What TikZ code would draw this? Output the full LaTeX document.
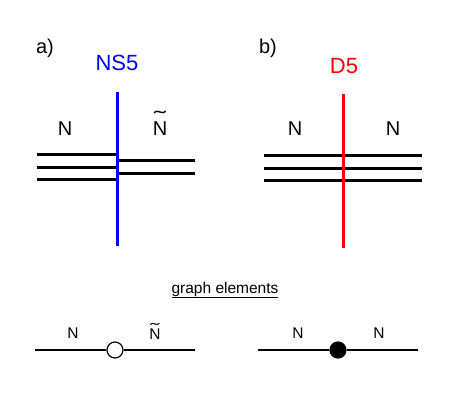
\documentclass[tikz,border=0pt]{standalone}
\usepackage{fontspec}
\usepackage{graphicx}
\setmainfont{Liberation Sans}
\newcommand\mywidetilde{\raisebox{-0.55em}[0.15em][0pt]{\scalebox{1.8}[1]{\char"02DC}}}
\begin{document}
\begin{tikzpicture}[x=1pt,y=-1pt,
  brane/.style={line width=3pt},
  lbl/.style={font=\fontsize{20}{24}\selectfont, inner sep=0pt},
  slbl/.style={font=\fontsize{15.5}{18}\selectfont, inner sep=0pt},
  gline/.style={line width=1.4pt},
  opendot/.style={circle, draw, line width=1.2pt, fill=white, minimum size=16pt, inner sep=0pt},
  fulldot/.style={circle, draw, line width=1.2pt, fill=black, minimum size=16pt, inner sep=0pt}]
\useasboundingbox (0,0) rectangle (472,410);
% panel a
\node[lbl] (la) at (45,48) {a)};
\node[lbl, text=blue, font=\fontsize{22}{26}\selectfont] (ns5) at (117,63) {NS5};
\node[lbl] (na) at (65,129) {N};
\node[lbl] (nta) at (160,129) {N};
\node[lbl, anchor=base] (ntaT) at (160,114) {\mywidetilde};
\coordinate (bt) at (117,92); \coordinate (bb) at (117,246);
\foreach \y [count=\i] in {154,167,179} {
  \coordinate (al\i) at (37,\y); \coordinate (am\i) at (117,\y);
  \draw[brane] (al\i) -- (am\i);
}
\foreach \y [count=\i] in {160,173} {
  \coordinate (ar\i) at (195,\y); \coordinate (an\i) at (117,\y);
  \draw[brane] (an\i) -- (ar\i);
}
\draw[line width=3pt, blue] (bt) -- (bb);
% panel b
\node[lbl] (lb) at (268,48) {b)};
\node[lbl, text=red, font=\fontsize{22}{26}\selectfont] (d5) at (344,66) {D5};
\node[lbl] (nb1) at (295,129) {N};
\node[lbl] (nb2) at (393,129) {N};
\foreach \y [count=\i] in {155,168,180} {
  \coordinate (bl\i) at (264,\y); \coordinate (br\i) at (422,\y);
  \draw[brane] (bl\i) -- (br\i);
}
\coordinate (rt) at (343,94); \coordinate (rb) at (343,248);
\draw[line width=3pt, red] (rt) -- (rb);
% graph elements
\node[slbl] (ge) at (225,290) {\underline{graph elements}};
\coordinate (g1l) at (35,350); \coordinate (g1r) at (195,350);
\node[opendot] (o) at (115,350) {};
\draw[gline] (g1l) -- (o) -- (g1r);
\node[slbl] (gn1) at (73,333) {N};
\node[slbl] (gn2) at (155,334) {N};
\node[slbl, anchor=base] (gn2T) at (155,326) {\mywidetilde};
\coordinate (g2l) at (258,350); \coordinate (g2r) at (418,350);
\node[fulldot] (f) at (338,350) {};
\draw[gline] (g2l) -- (f) -- (g2r);
\node[slbl] (gn3) at (298,333) {N};
\node[slbl] (gn4) at (379,333) {N};
\end{tikzpicture}
\end{document}
